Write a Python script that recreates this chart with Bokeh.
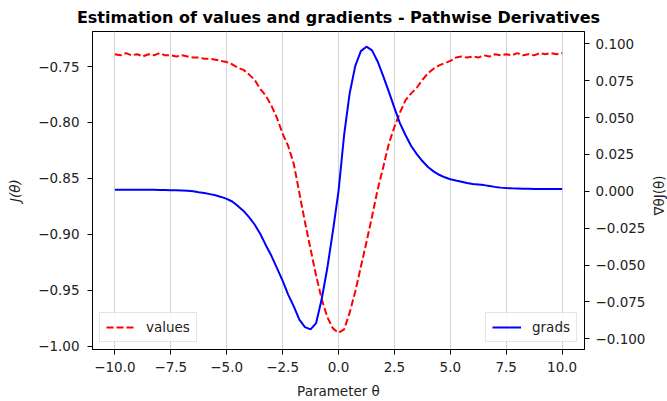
import math
from bokeh.plotting import figure
from bokeh.layouts import row
from bokeh.models import (Range1d, LinearAxis, FixedTicker, CustomJSTickFormatter,
                          Legend, LegendItem, Label)
from bokeh.embed import file_html
from bokeh.resources import INLINE

# ---------------- data ----------------
theta = [-10.0, -9.75, -9.5, -9.25, -9.0, -8.75, -8.5, -8.25, -8.0, -7.75,
         -7.5, -7.25, -7.0, -6.75, -6.5, -6.25, -6.0, -5.75, -5.5, -5.25,
         -5.0, -4.75, -4.5, -4.25, -4.0, -3.75, -3.5, -3.25, -3.0, -2.75,
         -2.5, -2.25, -2.0, -1.75, -1.5, -1.25, -1.0, -0.75, -0.5, -0.25,
         0.0, 0.25, 0.5, 0.75, 1.0, 1.25, 1.5, 1.75, 2.0, 2.25,
         2.5, 2.75, 3.0, 3.25, 3.5, 3.75, 4.0, 4.25, 4.5, 4.75,
         5.0, 5.25, 5.5, 5.75, 6.0, 6.25, 6.5, 6.75, 7.0, 7.25,
         7.5, 7.75, 8.0, 8.25, 8.5, 8.75, 9.0, 9.25, 9.5, 9.75, 10.0]

values = [-0.739, -0.740, -0.738, -0.740, -0.739, -0.741, -0.739, -0.740, -0.738, -0.740,
          -0.740, -0.741, -0.740, -0.741, -0.742, -0.742, -0.743, -0.743, -0.744, -0.745,
          -0.746, -0.748, -0.751, -0.753, -0.757, -0.762, -0.770, -0.776, -0.785, -0.796,
          -0.810, -0.821, -0.837, -0.863, -0.889, -0.913, -0.937, -0.958, -0.974, -0.984,
          -0.988, -0.985, -0.970, -0.951, -0.929, -0.907, -0.884, -0.860, -0.840, -0.819,
          -0.804, -0.791, -0.780, -0.774, -0.769, -0.762, -0.756, -0.752, -0.749, -0.747,
          -0.745, -0.742, -0.741, -0.742, -0.741, -0.742, -0.740, -0.741, -0.739, -0.740,
          -0.739, -0.740, -0.738, -0.740, -0.739, -0.740, -0.738, -0.739, -0.738, -0.739, -0.738]

grads = [0.0011, 0.0011, 0.0011, 0.0011, 0.0011, 0.0010, 0.0010, 0.0010, 0.0009, 0.0009,
         0.0008, 0.0007, 0.0005, 0.0003, 0.0000, -0.0007, -0.0012, -0.0019, -0.0027, -0.0038,
         -0.0051, -0.0069, -0.0100, -0.0133, -0.0175, -0.0225, -0.0288, -0.0365, -0.0437, -0.0520,
         -0.0605, -0.0700, -0.0780, -0.0870, -0.0920, -0.0936, -0.0893, -0.0730, -0.0520, -0.0270,
         0.0000, 0.0380, 0.0665, 0.0850, 0.0950, 0.0980, 0.0955, 0.0880, 0.0780, 0.0676,
         0.0565, 0.0460, 0.0380, 0.0307, 0.0252, 0.0205, 0.0165, 0.0135, 0.0112, 0.0095,
         0.0082, 0.0073, 0.0065, 0.0057, 0.0050, 0.0046, 0.0042, 0.0036, 0.0030, 0.0025,
         0.0022, 0.0020, 0.0019, 0.0018, 0.0017, 0.0016, 0.0016, 0.0016, 0.0016, 0.0016, 0.0016]

x_ticks = [-10.0, -7.5, -5.0, -2.5, 0.0, 2.5, 5.0, 7.5, 10.0]
left_ticks = [-1.00, -0.95, -0.90, -0.85, -0.80, -0.75]
right_ticks = [-0.100, -0.075, -0.050, -0.025, 0.000, 0.025, 0.050, 0.075, 0.100]

FONT = "DejaVu Sans"
TXT = "#222222"
FS = "13.5px"
RIGHT_LABEL = "∇θJ(θ)"

p = figure(width=650, height=401, output_backend="svg", toolbar_location=None,
           x_range=Range1d(-11, 11), y_range=Range1d(-1.0029, -0.7187),
           min_border_left=92, min_border_right=66, min_border_top=30, min_border_bottom=51)
p.extra_y_ranges = {"grad": Range1d(-0.1072, 0.1083)}

p.title.text = "Estimation of values and gradients - Pathwise Derivatives"
p.title.text_font = FONT
p.title.text_font_size = "16px"
p.title.text_font_style = "bold"
p.title.text_color = "black"
p.title.align = "center"

p.outline_line_color = "black"
p.outline_line_width = 1
p.background_fill_color = "white"
p.border_fill_color = "white"

# grid: vertical only
p.ygrid.visible = False
p.xgrid.grid_line_color = "#d3d3d3"
p.xgrid.grid_line_width = 1

def style_axis(ax, decimals):
    ax.major_tick_out = 5
    ax.major_tick_in = 0
    ax.minor_tick_out = 0
    ax.minor_tick_in = 0
    ax.axis_line_color = "black"
    ax.major_tick_line_color = "black"
    ax.major_label_text_font = FONT
    ax.major_label_text_font_size = FS
    ax.major_label_text_color = TXT
    ax.axis_label_text_font = FONT
    ax.axis_label_text_font_size = FS
    ax.axis_label_text_color = TXT
    ax.axis_label_text_font_style = "normal"
    ax.formatter = CustomJSTickFormatter(
        code="return tick.toFixed(%d).replace('-', '\u2212');" % decimals)

xa = p.xaxis[0]
xa.ticker = FixedTicker(ticks=x_ticks)
p.xgrid.ticker = FixedTicker(ticks=x_ticks)
style_axis(xa, 1)
xa.axis_label = "Parameter θ"
xa.major_label_standoff = 7
xa.axis_label_standoff = 8

ya = p.yaxis[0]
ya.ticker = FixedTicker(ticks=left_ticks)
style_axis(ya, 2)
ya.axis_label = "J(θ)"
ya.axis_label_text_font_style = "italic"
ya.major_label_standoff = 8
ya.axis_label_standoff = 12

ra = LinearAxis(y_range_name="grad")
ra.ticker = FixedTicker(ticks=right_ticks)
style_axis(ra, 3)
ra.major_label_standoff = 6
p.add_layout(ra, "right")

r1 = p.line(theta, values, line_color="red", line_width=2, line_dash="7 3")
r2 = p.line(theta, grads, line_color="blue", line_width=2, y_range_name="grad")

def make_legend(label, rend, loc):
    return Legend(items=[LegendItem(label=label, renderers=[rend])], location=loc,
                  label_text_font=FONT, label_text_font_size=FS, label_text_color=TXT,
                  border_line_color="#cccccc", border_line_width=1,
                  background_fill_color="white", background_fill_alpha=0.8,
                  padding=6, margin=7, spacing=0, glyph_width=29, glyph_height=16,
                  label_height=16, label_standoff=11)

p.add_layout(make_legend("values", r1, "bottom_left"))
p.add_layout(make_legend("grads", r2, "bottom_right"))

# narrow strip on the right carrying the right-axis title (reads bottom-to-top)
side = figure(width=17, height=401, output_backend="svg", toolbar_location=None,
              title=None, x_axis_location=None, y_axis_location=None, min_border=0,
              x_range=Range1d(0, 1), y_range=Range1d(0, 1))
side.outline_line_color = None
side.grid.visible = False
side.background_fill_color = "white"
side.border_fill_color = "white"
side.add_layout(Label(x=8, y=154, x_units="screen", y_units="screen", text=RIGHT_LABEL,
                      angle=math.pi / 2, text_align="center", text_baseline="middle",
                      text_font=FONT, text_font_size=FS, text_color=TXT))

layout = row(p, side, spacing=0)

with open("out.html", "w", encoding="utf-8") as f:
    f.write(file_html(layout, INLINE))
